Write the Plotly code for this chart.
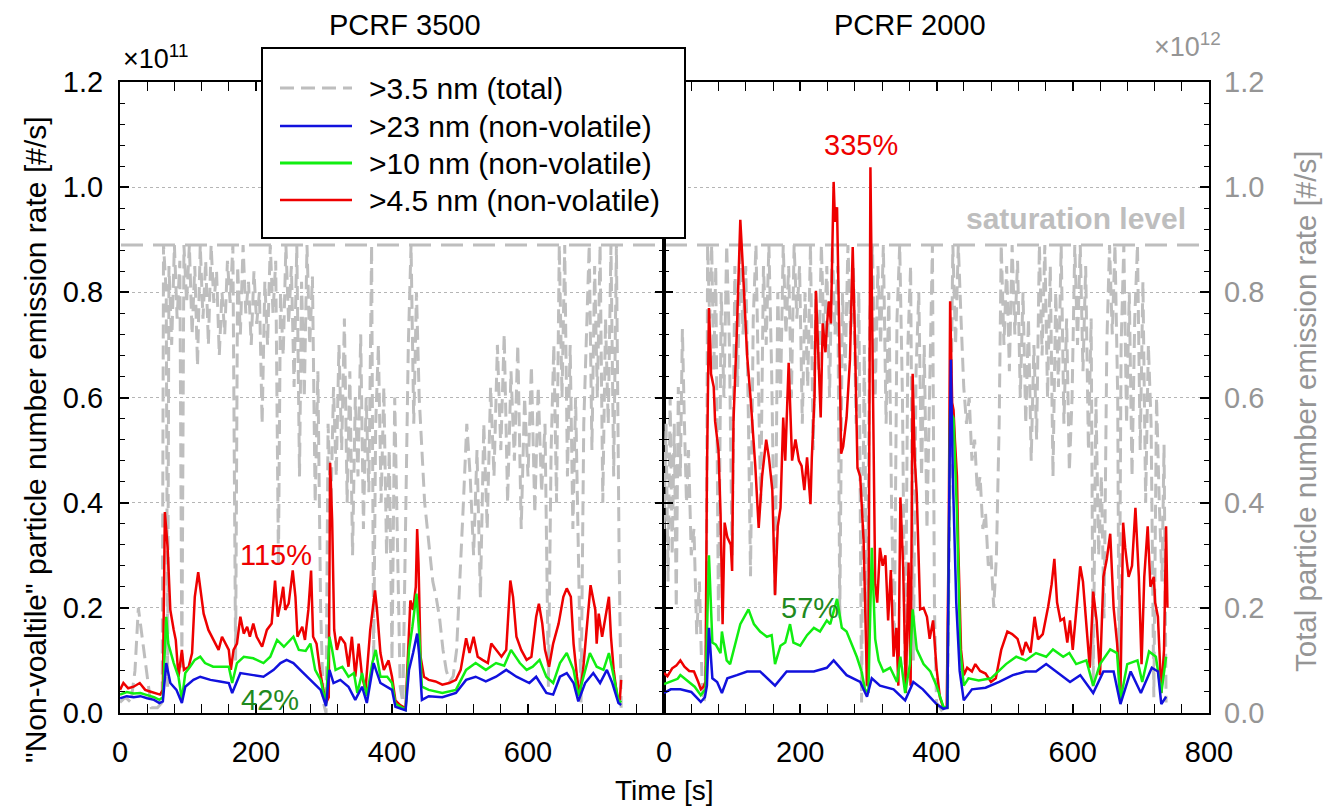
import plotly.graph_objects as go

# ---------------- data (time [s], value) ----------------
# Left panel: PCRF 3500  (non-volatile in 1e11 #/s, total in 1e12 #/s)
red_L = [(0,.044),(5,.057),(12,.047),(20,.050),(29,.057),(37,.044),(44,.041),(52,.038),(59,.035),(63,.044),
         (66,.382),(70,.315),(74,.196),(79,.158),(82,.139),(86,.069),(91,.120),(94,.082),(101,.088),(106,.114),
         (110,.221),(115,.268),(119,.233),(123,.189),(130,.158),(137,.139),(145,.120),(150,.145),(155,.132),(160,.120),
         (163,.082),(167,.120),(172,.132),(177,.183),(182,.151),(187,.164),(191,.145),(196,.170),(201,.145),(209,.126),
         (216,.158),(223,.170),(228,.252),(232,.183),(236,.208),(240,.240),(243,.196),(248,.208),(254,.271),(258,.221),
         (261,.145),(268,.164),(272,.139),(277,.196),(281,.271),(284,.145),(289,.132),(294,.082),(299,.044),(303,.019),
         (307,.030),(309,.476),(312,.366),(315,.158),(319,.120),(324,.145),(331,.132),(336,.088),(341,.145),(346,.069),
         (351,.132),(356,.069),(361,.044),(368,.158),(375,.233),(378,.196),(383,.114),(388,.082),(395,.100),(400,.069),
         (405,.024),(412,.015),(420,.009),(424,.145),(427,.214),(431,.196),(435,.240),(437,.350),(439,.284),(442,.107),
         (447,.069),(454,.063),(464,.060),(474,.054),(484,.057),(494,.063),(501,.082),(509,.142),(514,.114),(520,.145),
         (526,.107),(533,.101),(541,.095),(546,.132),(553,.120),(561,.107),(568,.120),(574,.252),(578,.221),(583,.145),
         (590,.120),(598,.101),(605,.107),(612,.183),(616,.208),(621,.170),(625,.120),(631,.088),(637,.132),(645,.170),
         (652,.221),(657,.237),(663,.221),(667,.132),(672,.069),(676,.035),(681,.082),(687,.170),(692,.243),(699,.196),
         (701,.132),(704,.189),(709,.145),(714,.183),(719,.221),(722,.145),(726,.082),(731,.032),(735,.025),(737,.063)]

green_L = [(0,.035),(10,.040),(20,.037),(30,.038),(40,.034),(50,.030),(58,.025),(63,.030),(68,.183),(71,.132),
           (79,.095),(86,.069),(91,.025),(96,.076),(103,.088),(110,.101),(118,.107),(125,.095),(137,.088),(152,.088),
           (160,.088),(165,.057),(172,.095),(182,.107),(196,.104),(211,.095),(221,.107),(231,.139),(241,.126),(255,.145),
           (263,.120),(273,.118),(280,.132),(287,.082),(295,.063),(303,.016),(308,.145),(312,.120),(317,.082),(327,.088),
           (336,.069),(344,.076),(349,.038),(356,.076),(363,.032),(371,.095),(376,.120),(383,.069),(393,.069),(400,.057),
           (405,.018),(420,.006),(425,.120),(430,.164),(436,.227),(440,.150),(444,.050),(454,.044),(474,.038),(494,.044),
           (509,.082),(523,.095),(538,.082),(553,.095),(565,.090),(575,.120),(588,.095),(598,.082),(607,.088),(617,.101),
           (627,.069),(637,.057),(647,.095),(657,.114),(667,.082),(674,.032),(684,.082),(691,.114),(701,.088),(711,.082),
           (719,.114),(726,.069),(733,.025),(737,.020)]

blue_L = [(0,.028),(10,.032),(20,.030),(30,.032),(40,.028),(50,.025),(58,.019),(63,.022),(68,.095),(74,.057),
          (83,.044),(91,.019),(96,.050),(108,.063),(118,.069),(133,.063),(147,.060),(160,.057),(165,.038),(177,.076),
          (196,.072),(211,.069),(226,.082),(236,.095),(245,.101),(255,.095),(265,.082),(275,.069),(285,.057),(295,.044),
          (303,.013),(308,.082),(314,.057),(324,.063),(336,.050),(346,.025),(356,.050),(363,.019),(373,.095),(383,.057),
          (400,.044),(405,.012),(420,.005),(425,.082),(431,.114),(437,.151),(440,.110),(444,.025),(454,.032),(474,.030),
          (494,.038),(509,.063),(523,.069),(538,.060),(553,.069),(568,.082),(583,.069),(602,.057),(612,.069),(627,.038),
          (637,.035),(647,.069),(657,.076),(667,.057),(674,.022),(684,.057),(696,.076),(706,.057),(716,.082),(724,.057),
          (733,.019),(737,.015)]

total_L = [(0,.02),(8,.03),(16,.02),(22,.08),(27,.20),(31,.16),(36,.10),(41,.05),(46,.01),(55,.01),(62,.02),
           (64,.89),(68,.80),(70,.05),(72,.85),(76,.70),(80,.89),(84,.75),(88,.86),(91,.08),(94,.89),(98,.78),
           (102,.89),(106,.72),(110,.85),(114,.66),(118,.89),(122,.75),(126,.86),(130,.70),(134,.89),(138,.78),
           (142,.84),(146,.68),(150,.80),(154,.72),(158,.86),(162,.78),(166,.89),(170,.10),(173,.85),(177,.72),
           (181,.89),(185,.76),(189,.82),(193,.70),(197,.84),(201,.74),(205,.80),(209,.55),(213,.82),(217,.70),
           (221,.89),(225,.76),(229,.86),(233,.28),(236,.80),(240,.68),(244,.89),(248,.74),(252,.85),(256,.62),
           (260,.89),(264,.45),(267,.82),(271,.60),(275,.89),(279,.70),(283,.83),(287,.40),(291,.65),(295,.20),
           (299,.02),(303,.00),(306,.55),(310,.38),(314,.62),(318,.45),(322,.70),(326,.50),(330,.75),(334,.40),
           (338,.65),(342,.30),(346,.60),(350,.45),(354,.72),(358,.35),(362,.60),(366,.42),(370,.89),(373,.10),
           (376,.55),(380,.70),(384,.40),(388,.62),(392,.30),(396,.50),(400,.10),(404,.60),(408,.30),(412,.05),
           (416,.02),(420,.40),(424,.70),(428,.89),(432,.55),(436,.80),(440,.60),(444,.50),(448,.40),(452,.35),
           (456,.30),(460,.25),(465,.22),(470,.18),(475,.12),(480,.08),(485,.06),(490,.07),(495,.12),(500,.25),
           (505,.40),(510,.55),(515,.45),(520,.30),(525,.50),(530,.22),(535,.55),(540,.35),(545,.62),(550,.45),
           (555,.70),(560,.50),(565,.72),(570,.40),(575,.65),(580,.48),(585,.70),(590,.35),(595,.60),(600,.45),
           (605,.66),(610,.38),(615,.62),(620,.42),(625,.55),(630,.05),(634,.50),(638,.70),(642,.40),(646,.89),
           (650,.60),(654,.89),(658,.45),(662,.70),(666,.35),(670,.60),(674,.30),(678,.02),(682,.55),(686,.72),
           (690,.89),(694,.50),(698,.85),(702,.60),(706,.89),(710,.40),(714,.75),(718,.55),(722,.89),(726,.45),
           (730,.89),(734,.30),(737,.01)]

# Right panel: PCRF 2000
red_R = [(0,.076),(5,.070),(12,.085),(18,.090),(24,.100),(30,.088),(37,.080),(44,.079),(50,.060),(54,.045),
         (58,.050),(61,.060),(63,.450),(66,.770),(68,.700),(69,.645),(73,.620),(75,.555),(80,.500),(83,.380),
         (86,.169),(89,.362),(93,.334),(98,.320),(100,.270),(102,.555),(107,.728),(112,.938),(115,.866),(120,.714),
         (122,.680),(127,.600),(134,.470),(139,.352),(144,.450),(150,.520),(154,.486),(159,.424),(163,.224),(167,.355),
         (171,.390),(175,.562),(178,.480),(183,.666),(188,.480),(193,.520),(198,.480),(202,.470),(206,.424),(210,.486),
         (215,.397),(217,.486),(221,.603),(223,.803),(227,.672),(230,.562),(233,.741),(237,.686),(239,.734),(242,.783),
         (245,.741),(249,1.010),(251,.934),(254,.962),(257,.741),(260,.493),(263,.507),(268,.562),(273,.672),(277,.886),
         (280,.728),(284,.466),(288,.450),(293,.328),(298,.052),(300,.072),(303,1.038),(306,.659),(310,.245),(313,.210),
         (317,.314),(321,.280),(325,.300),(329,.176),(333,.272),(337,.107),(341,.162),(344,.052),(347,.410),(351,.279),
         (355,.038),(359,.286),(362,.052),(365,.645),(368,.486),(371,.417),(376,.197),(381,.200),(386,.183),(390,.141),
         (395,.176),(400,.086),(405,.030),(410,.010),(415,.010),(418,.350),(420,.783),(423,.590),(425,.576),(427,.520),
         (430,.450),(432,.314),(436,.120),(440,.072),(445,.086),(452,.079),(457,.093),(464,.080),(472,.075),(480,.059),
         (487,.066),(495,.120),(504,.155),(511,.150),(519,.141),(526,.110),(531,.135),(538,.115),(544,.183),(549,.140),
         (556,.150),(564,.203),(569,.245),(573,.293),(577,.210),(582,.176),(587,.180),(592,.134),(596,.176),(600,.120),
         (606,.203),(611,.279),(615,.250),(620,.176),(625,.086),(630,.231),(635,.176),(640,.072),(645,.259),(650,.293),
         (655,.341),(660,.200),(665,.134),(670,.038),(674,.362),(677,.314),(682,.259),(687,.280),(692,.390),(697,.259),
         (701,.093),(705,.259),(710,.355),(714,.240),(719,.259),(721,.210),(725,.183),(730,.038),(734,.120),(737,.355),
         (739,.200)]

green_R = [(0,.055),(10,.060),(20,.065),(24,.072),(35,.060),(45,.050),(54,.034),(61,.045),(66,.300),(71,.134),
           (76,.130),(83,.114),(85,.155),(92,.100),(97,.093),(105,.134),(112,.169),(124,.197),(132,.169),(141,.155),
           (151,.145),(158,.148),(163,.093),(171,.128),(178,.134),(185,.169),(190,.134),(200,.128),(210,.148),(220,.162),
           (229,.155),(239,.176),(244,.169),(254,.217),(261,.162),(268,.155),(275,.134),(283,.107),(290,.079),(295,.045),
           (300,.038),(305,.314),(310,.141),(315,.100),(322,.079),(332,.086),(342,.059),(347,.107),(354,.038),(361,.093),
           (365,.197),(371,.121),(381,.093),(391,.079),(400,.052),(410,.012),(416,.010),(420,.576),(425,.560),(430,.380),
           (435,.120),(440,.052),(447,.066),(462,.062),(480,.066),(492,.080),(502,.093),(517,.107),(531,.100),(546,.114),
           (561,.107),(571,.121),(586,.107),(595,.114),(605,.093),(620,.100),(630,.052),(640,.093),(655,.121),(665,.114),
           (670,.024),(680,.093),(695,.100),(702,.059),(712,.117),(722,.107),(730,.038),(737,.107)]

blue_R = [(0,.038),(10,.045),(24,.045),(40,.040),(54,.021),(60,.030),(63,.052),(66,.162),(71,.066),(78,.059),
          (85,.038),(93,.066),(107,.072),(122,.079),(141,.079),(163,.052),(180,.079),(200,.079),(220,.079),(239,.086),
          (249,.100),(268,.072),(288,.059),(298,.031),(305,.066),(317,.052),(337,.045),(354,.024),(366,.059),(380,.045),
          (400,.017),(410,.008),(416,.010),(419,.450),(421,.672),(424,.450),(429,.210),(434,.080),(440,.024),(452,.045),
          (472,.048),(492,.059),(512,.072),(531,.079),(546,.079),(561,.093),(576,.079),(596,.059),(611,.072),(630,.038),
          (645,.079),(660,.079),(670,.017),(685,.079),(700,.038),(716,.086),(725,.079),(730,.017),(737,.031)]

total_R = [(0,.35),(3,.55),(6,.25),(9,.60),(12,.30),(15,.55),(18,.20),(21,.62),(24,.45),(27,.73),(30,.55),
           (33,.40),(36,.50),(40,.30),(44,.35),(48,.15),(52,.25),(56,.05),(59,.02),(62,.10),(64,.89),(67,.75),
           (70,.89),(73,.65),(76,.85),(80,.17),(84,.80),(88,.60),(92,.89),(96,.70),(100,.30),(104,.85),(108,.62),
           (112,.89),(116,.72),(120,.85),(124,.55),(127,.26),(131,.75),(135,.89),(139,.60),(142,.40),(146,.85),
           (150,.70),(154,.89),(158,.65),(163,.22),(167,.80),(171,.60),(175,.89),(179,.72),(183,.85),(187,.60),
           (191,.89),(195,.75),(199,.85),(203,.55),(207,.80),(211,.62),(215,.89),(219,.50),(223,.80),(227,.65),
           (231,.89),(235,.70),(239,.85),(243,.60),(247,.89),(251,.72),(255,.85),(258,.18),(262,.80),(266,.65),
           (270,.89),(274,.72),(278,.85),(282,.55),(286,.80),(290,.02),(294,.70),(298,.05),(302,.75),(306,.89),
           (310,.60),(314,.85),(318,.70),(322,.89),(326,.55),(330,.80),(334,.40),(338,.12),(342,.75),(346,.89),
           (350,.60),(354,.05),(358,.70),(362,.85),(366,.10),(370,.65),(374,.80),(378,.45),(382,.70),(386,.35),
           (390,.60),(394,.89),(397,.20),(400,.02),(405,.01),(410,.00),(416,.01),(420,.50),(424,.89),(428,.70),
           (432,.89),(436,.75),(440,.62),(444,.55),(448,.60),(452,.48),(456,.52),(460,.42),(464,.45),(468,.35),
           (472,.38),(476,.28),(480,.30),(484,.20),(488,.30),(492,.55),(495,.89),(499,.70),(503,.85),(507,.65),
           (511,.89),(515,.72),(519,.86),(523,.60),(527,.80),(531,.55),(535,.75),(539,.48),(543,.70),(547,.52),
           (551,.89),(555,.68),(559,.89),(563,.60),(567,.85),(571,.45),(575,.80),(579,.62),(583,.89),(587,.55),
           (591,.75),(595,.46),(599,.60),(603,.89),(607,.70),(611,.89),(615,.65),(619,.85),(623,.50),(627,.75),
           (630,.05),(634,.60),(638,.30),(642,.45),(646,.18),(650,.70),(654,.89),(658,.72),(662,.89),(666,.60),
           (668,.04),(671,.70),(675,.89),(679,.55),(683,.80),(687,.45),(691,.75),(695,.89),(699,.50),(703,.82),
           (707,.40),(711,.70),(715,.55),(719,.03),(723,.60),(727,.40),(731,.25),(734,.51),(737,.02)]

saturation_level = 0.89
x_ticks_left = [0, 200, 400, 600]
x_ticks_right = [0, 200, 400, 600, 800]
y_ticks = [0.0, 0.2, 0.4, 0.6, 0.8, 1.0, 1.2]
y_ticktext = ["0.0", "0.2", "0.4", "0.6", "0.8", "1.0", "1.2"]
legend_names = [">3.5 nm (total)", ">23 nm (non-volatile)", ">10 nm (non-volatile)", ">4.5 nm (non-volatile)"]

# ---------------- style ----------------
W, H = 1336, 807
FONT = "Liberation Sans, Arial, sans-serif"
GRAY = "#bebebe"
GRAYTXT = "#959595"
RED = "#ee0000"
GREEN = "#11ee11"
BLUE = "#1111dd"
DKGREEN = "#1f8a1f"
GRAY_DASH = "14px,7px"


def px(x):
    return x / W


def py(y):
    return 1 - y / H


def split(pairs):
    return [p[0] for p in pairs], [p[1] for p in pairs]


fig = go.Figure()

# Base axes (y, y2) carry the total number (x1e12, gray dashed) so it is drawn underneath;
# overlay axes (y3, y4) carry the non-volatile series (x1e11).
for pairs, xa, ya in [(total_L, "x", "y"), (total_R, "x2", "y2")]:
    t, v = split(pairs)
    fig.add_trace(go.Scatter(x=t, y=v, xaxis=xa, yaxis=ya, mode="lines",
                             line=dict(color=GRAY, width=3, dash=GRAY_DASH),
                             name=legend_names[0], showlegend=False, hoverinfo="skip"))

for (r, g, b), xa, ya in [((red_L, green_L, blue_L), "x", "y3"), ((red_R, green_R, blue_R), "x2", "y4")]:
    for pairs, col, nm in [(r, RED, legend_names[3]), (g, GREEN, legend_names[2]), (b, BLUE, legend_names[1])]:
        t, v = split(pairs)
        fig.add_trace(go.Scatter(x=t, y=v, xaxis=xa, yaxis=ya, mode="lines",
                                 line=dict(color=col, width=2.5),
                                 name=nm, showlegend=False, hoverinfo="skip"))

YDOM = [py(713), py(82)]
tickfont = dict(family=FONT, size=29, color="black")
minor_x = dict(dtick=40, tick0=0, ticks="inside", ticklen=5, tickwidth=1.3, tickcolor="black")
minor_y = dict(dtick=0.04, tick0=0, ticks="inside", ticklen=5, tickwidth=1.3, tickcolor="black")
xcommon = dict(range=[0, 800], ticks="inside", ticklen=9, tickwidth=1.5, tickcolor="black",
               showline=True, linecolor="black", linewidth=2, mirror="allticks",
               showgrid=False, zeroline=False, tickfont=tickfont, minor=minor_x,
               ticklabelstandoff=12, automargin=False)
# visible non-volatile axes (overlays)
yvis = dict(range=[0, 1.2], tickvals=y_ticks, ticktext=y_ticktext, ticks="inside", ticklen=9,
            tickwidth=1.5, tickcolor="black", showline=True, linecolor="black", linewidth=2,
            mirror="allticks", showgrid=True, gridcolor="#b5b5b5", griddash="dot", gridwidth=1.3,
            zeroline=False, tickfont=tickfont, minor=minor_y, automargin=False, domain=YDOM)

fig.update_layout(
    template="none",
    width=W, height=H,
    margin=dict(l=0, r=0, t=0, b=0, autoexpand=False),
    paper_bgcolor="white", plot_bgcolor="white",
    font=dict(family=FONT, size=28, color="black"),
    showlegend=False,
    xaxis=dict(xcommon, domain=[px(120), px(664)], anchor="y", tickvals=x_ticks_left),
    xaxis2=dict(xcommon, domain=[px(664), px(1209)], anchor="y2", tickvals=x_ticks_right),
    # total-number axes
    yaxis=dict(range=[0, 1.2], domain=YDOM, anchor="x", showticklabels=False, ticks="",
               showline=False, showgrid=False, zeroline=False, automargin=False),
    yaxis2=dict(range=[0, 1.2], domain=YDOM, anchor="x2", side="right", tickvals=y_ticks,
                ticktext=y_ticktext, ticks="", showline=False, showgrid=False, zeroline=False,
                automargin=False, tickfont=dict(family=FONT, size=29, color=GRAYTXT),
                ticklabelstandoff=14),
    # non-volatile axes
    yaxis3=dict(yvis, overlaying="y", anchor="x", side="left", ticklabelstandoff=9),
    yaxis4=dict(yvis, overlaying="y2", anchor="x2", side="left", showticklabels=False),
)

shapes = []
# saturation level line across both panels
shapes.append(dict(type="line", xref="paper", yref="y", x0=px(121), x1=px(1208),
                   y0=saturation_level, y1=saturation_level, layer="between",
                   line=dict(color=GRAY, width=3, dash="22px,10px")))
# legend box
shapes.append(dict(type="rect", xref="paper", yref="paper", x0=px(262), x1=px(685),
                   y0=py(238), y1=py(48), layer="above", fillcolor="white",
                   line=dict(color="black", width=2)))
legend_rows = [88, 126, 163, 200]
legend_styles = [(GRAY, GRAY_DASH, 3), (BLUE, "solid", 2.5), (GREEN, "solid", 3), (RED, "solid", 2.5)]
for yrow, (col, dsh, wd) in zip(legend_rows, legend_styles):
    shapes.append(dict(type="line", xref="paper", yref="paper", x0=px(280), x1=px(352),
                       y0=py(yrow), y1=py(yrow), layer="above",
                       line=dict(color=col, width=wd, dash=dsh)))
fig.update_layout(shapes=shapes)

ann = []
for yrow, name in zip(legend_rows, legend_names):
    ann.append(dict(text=name, xref="paper", yref="paper", x=px(367), y=py(yrow),
                    xanchor="left", yanchor="middle", showarrow=False,
                    font=dict(family=FONT, size=30, color="black")))
ann += [
    dict(text="PCRF 3500", xref="paper", yref="paper", x=px(405), y=py(25), showarrow=False,
         xanchor="center", yanchor="middle", font=dict(family=FONT, size=29, color="black")),
    dict(text="PCRF 2000", xref="paper", yref="paper", x=px(910), y=py(25), showarrow=False,
         xanchor="center", yanchor="middle", font=dict(family=FONT, size=29, color="black")),
    dict(text="×10<sup>11</sup>", xref="paper", yref="paper", x=px(121), y=py(57), showarrow=False,
         xanchor="left", yanchor="middle", font=dict(family=FONT, size=27, color="black")),
    dict(text="×10<sup>12</sup>", xref="paper", yref="paper", x=px(1223), y=py(45), showarrow=False,
         xanchor="right", yanchor="middle", font=dict(family=FONT, size=27, color=GRAYTXT)),
    dict(text="<b>saturation level</b>", xref="paper", yref="paper", x=px(1076), y=py(218),
         showarrow=False, xanchor="center", yanchor="middle",
         font=dict(family=FONT, size=30, color=GRAY)),
    dict(text="Time [s]", xref="paper", yref="paper", x=px(664), y=py(790), showarrow=False,
         xanchor="center", yanchor="middle", font=dict(family=FONT, size=28, color="black")),
    dict(text='"Non-voaltile" particle number emission rate [#/s]', xref="paper", yref="paper",
         x=px(35), y=py(440), textangle=-90, showarrow=False, xanchor="center", yanchor="middle",
         font=dict(family=FONT, size=30, color="black")),
    dict(text="Total particle number emission rate [#/s]", xref="paper", yref="paper",
         x=px(1305), y=py(412), textangle=-90, showarrow=False, xanchor="center", yanchor="middle",
         font=dict(family=FONT, size=29.5, color=GRAYTXT)),
    dict(text="115%", xref="x", yref="y3", x=229, y=0.30, showarrow=False,
         font=dict(family=FONT, size=29, color=RED)),
    dict(text="42%", xref="x", yref="y3", x=220, y=0.025, showarrow=False,
         font=dict(family=FONT, size=29, color=DKGREEN)),
    dict(text="57%", xref="x2", yref="y4", x=214, y=0.20, showarrow=False,
         font=dict(family=FONT, size=29, color=DKGREEN)),
    dict(text="335%", xref="x2", yref="y4", x=289, y=1.08, showarrow=False,
         font=dict(family=FONT, size=29, color=RED)),
]
fig.update_layout(annotations=ann)

fig.write_html("out.html")
